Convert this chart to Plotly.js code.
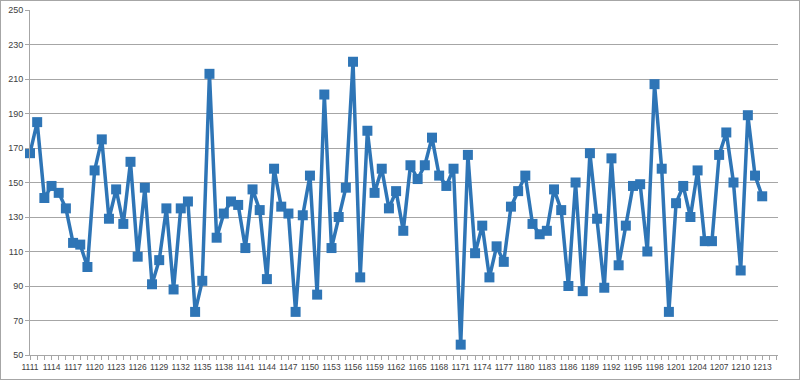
<!DOCTYPE html>
<html>
<head>
<meta charset="utf-8">
<script src="https://cdn.plot.ly/plotly-3.0.1.min.js"></script>
<style>
  html, body { margin: 0; padding: 0; background: #ffffff; }
  #wrap { position: relative; width: 800px; height: 380px; }
  #chart { width: 800px; height: 380px; }
  #frame { position: absolute; left: 0; top: 0; width: 800px; height: 380px; box-sizing: border-box; border: 1px solid #a6a6a6; pointer-events: none; }
</style>
</head>
<body>
<div id="wrap">
  <div id="chart"></div>
  <div id="frame"></div>
</div>
<script>
const categories = [
  1111,1112,1113,1114,1115,1116,1117,1118,1119,1120,
  1121,1122,1123,1124,1125,1126,1127,1128,1129,1130,
  1131,1132,1133,1134,1135,1136,1137,1138,1139,1140,
  1141,1142,1143,1144,1145,1146,1147,1148,1149,1150,
  1151,1152,1153,1154,1155,1156,1157,1158,1159,1160,
  1161,1162,1163,1164,1165,1166,1167,1168,1169,1170,
  1171,1172,1173,1174,1175,1176,1177,1178,1179,1180,
  1181,1182,1183,1184,1185,1186,1187,1188,1189,1190,
  1191,1192,1193,1194,1195,1196,1197,1198,1199,1200,
  1201,1202,1203,1204,1205,1206,1207,1208,1209,1210,
  1211,1212,1213
];
const values = [
  167,185,141,148,144,135,115,114,101,157,
  175,129,146,126,162,107,147,91,105,135,
  88,135,139,75,93,213,118,132,139,137,
  112,146,134,94,158,136,132,75,131,154,
  85,201,112,130,147,220,95,180,144,158,
  135,145,122,160,152,160,176,154,148,158,
  56,166,109,125,95,113,104,136,145,154,
  126,120,122,146,134,90,150,87,167,129,
  89,164,102,125,148,149,110,207,158,75,
  138,148,130,157,116,116,166,179,150,99,
  189,154,142
];
const xTickLabels = [
  1111,1114,1117,1120,1123,1126,1129,1132,1135,1138,1141,1144,
  1147,1150,1153,1156,1159,1162,1165,1168,1171,1174,1177,1180,
  1183,1186,1189,1192,1195,1198,1201,1204,1207,1210,1213
];
const yTicks = [50,70,90,110,130,150,170,190,210,230,250];

const trace = {
  x: categories,
  y: values,
  type: 'scatter',
  mode: 'lines+markers',
  cliponaxis: false,
  line: { color: '#2E75B6', width: 3.5 },
  marker: { symbol: 'square', size: 10, color: '#2E75B6' },
  hoverinfo: 'x+y'
};

const layout = {
  width: 800,
  height: 380,
  margin: { l: 30, r: 22, t: 10, b: 25, pad: 0 },
  paper_bgcolor: '#ffffff',
  plot_bgcolor: '#ffffff',
  showlegend: false,
  font: { family: 'Liberation Sans, Arial, sans-serif', size: 9, color: '#404040' },
  xaxis: {
    type: 'linear',
    range: [1111, 1215.2],
    tickmode: 'array',
    tickvals: xTickLabels,
    ticktext: xTickLabels.map(String),
    tickangle: 0,
    ticks: 'outside',
    ticklen: 4,
    tickcolor: '#a6a6a6',
    showgrid: false,
    zeroline: false,
    showline: true,
    linecolor: '#a6a6a6',
    linewidth: 1,
    minor: { tickmode: 'linear', tick0: 1111, dtick: 1, ticks: 'outside', ticklen: 4, tickcolor: '#a6a6a6', showgrid: false },
    tickfont: { family: 'Liberation Sans, Arial, sans-serif', size: 8.5, color: '#404040' }
  },
  yaxis: {
    range: [50, 250],
    tickmode: 'array',
    tickvals: yTicks,
    ticktext: yTicks.map(String),
    ticks: 'outside',
    ticklen: 4,
    tickcolor: '#a6a6a6',
    showgrid: true,
    gridcolor: '#a6a6a6',
    gridwidth: 1,
    zeroline: false,
    showline: true,
    linecolor: '#a6a6a6',
    linewidth: 1,
    tickfont: { family: 'Liberation Sans, Arial, sans-serif', size: 9, color: '#404040' }
  }
};

Plotly.newPlot('chart', [trace], layout, { displayModeBar: false, staticPlot: true });
</script>
</body>
</html>
